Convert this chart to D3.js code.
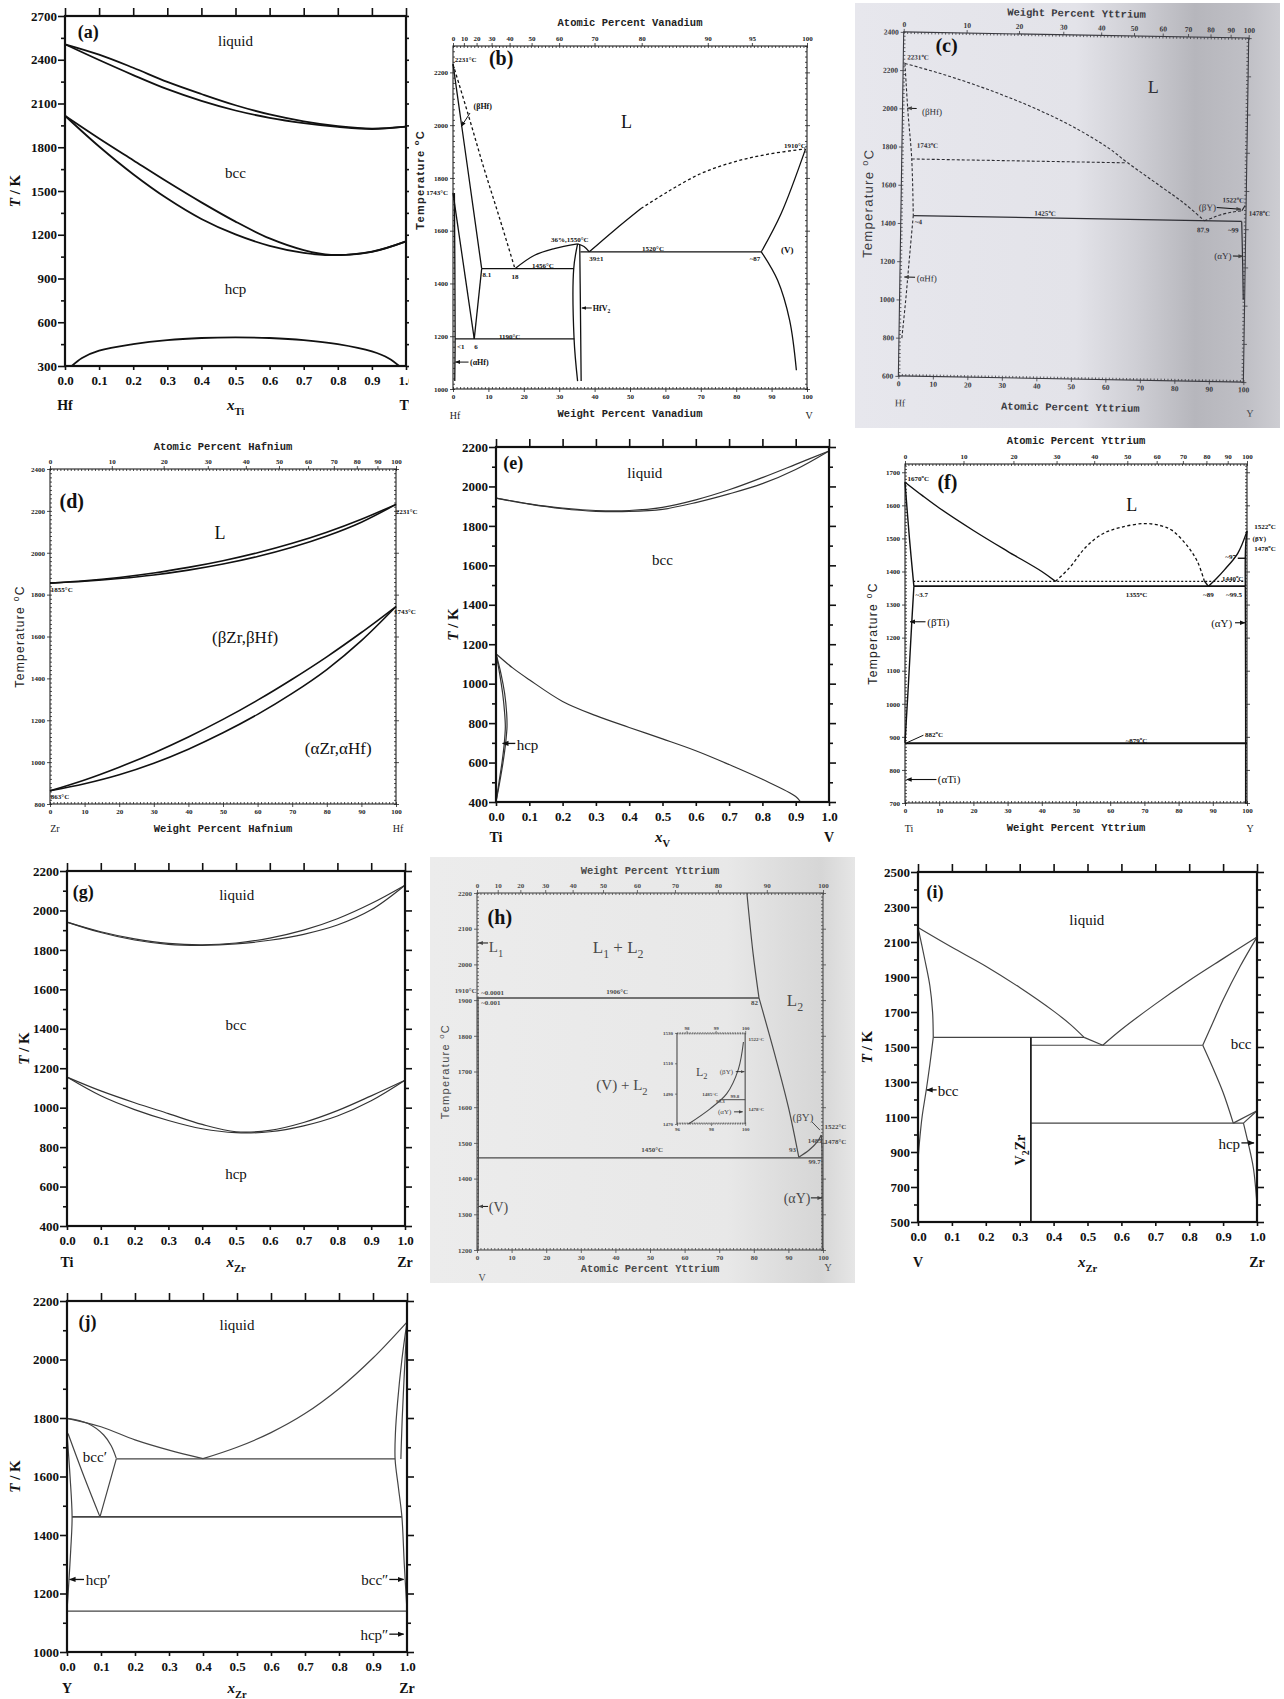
<!DOCTYPE html>
<html>
<head>
<meta charset="utf-8">
<title>Binary phase diagrams (a)-(j)</title>
<script src="https://cdn.jsdelivr.net/npm/d3@7"></script>
<style>
  body { margin: 0; background: #fff; }
  svg { display: block; }
</style>
</head>
<body>
<svg id="fig" width="1284" height="1699"></svg>
<script>
// ---------------- data ----------------
const MASS = { Hf: 178.49, V: 50.94, Y: 88.91, Zr: 91.22, Ti: 47.87 };

const fracTicks = [0, 0.1, 0.2, 0.3, 0.4, 0.5, 0.6, 0.7, 0.8, 0.9, 1.0];
const pctTicks = [0, 10, 20, 30, 40, 50, 60, 70, 80, 90, 100];

// (a) Hf-Ti, T/K vs x_Ti
const aYTicks = [300, 600, 900, 1200, 1500, 1800, 2100, 2400, 2700];
const aLiquidus = [[0,2506],[0.1,2435],[0.2,2345],[0.3,2248],[0.4,2165],[0.5,2088],[0.6,2025],[0.7,1978],[0.8,1945],[0.9,1928],[1,1941]];
const aSolidus  = [[0,2506],[0.1,2398],[0.2,2295],[0.3,2198],[0.4,2118],[0.5,2052],[0.6,2002],[0.7,1966],[0.8,1940],[0.9,1925],[1,1941]];
const aBccUpper = [[0,2016],[0.1,1860],[0.2,1711],[0.3,1563],[0.4,1422],[0.5,1290],[0.6,1175],[0.7,1095],[0.78,1062],[0.9,1085],[1,1155]];
const aBccLower = [[0,2016],[0.1,1805],[0.2,1615],[0.3,1448],[0.4,1308],[0.5,1202],[0.6,1124],[0.7,1076],[0.78,1060],[0.9,1083],[1,1155]];
const aGap = [[0.02,300],[0.05,355],[0.1,405],[0.2,450],[0.3,478],[0.4,492],[0.5,496],[0.6,492],[0.7,478],[0.8,450],[0.9,400],[0.95,352],[0.98,300]];

// (b) Hf-V, degC vs wt% V
const bYTicks = [1000, 1200, 1400, 1600, 1800, 2000, 2200];
const bTopAt = [0, 10, 20, 30, 40, 50, 60, 70, 80, 90, 95, 100];
const bLiqHf = [[0,2231],[4.3,2040],[8.6,1843],[13.1,1650],[17.5,1456]];
const bSolHf = [[0,2231],[4,1850],[8.1,1456]];
const bBetaLow = [[8.1,1456],[6,1190]];
const bEutectoid = [[0,1743],[6,1190]];
const bAlphaHf = [[0.4,1743],[0.6,1190],[0.5,1030]];
const bLiqMid = [[17.5,1456],[22.9,1506],[28.6,1532],[35.2,1550]];
const bHfV2Left = [[35.2,1550],[34.1,1456],[34.2,1190],[35.2,1030]];
const bHfV2Right = [[35.8,1548],[36.0,1300],[36.2,1030]];
const bPeakRight = [[35.2,1550],[37,1540],[38.5,1520]];
const bLiqVSolid = [[38.5,1520],[45.6,1602],[53.1,1684]];
const bLiqVDash = [[53.1,1684],[60.7,1748],[70.1,1817],[79.5,1861],[89,1890],[99.5,1910]];
const bSolV = [[87.1,1520],[92.7,1665],[99.6,1910]];
const bSolvusV = [[87.1,1520],[91.7,1412],[95.1,1260],[97,1071]];
const bIsotherms = [{ from: 0.6, to: 34.3, t: 1190 }, { from: 8.1, to: 34.2, t: 1456 }, { from: 36.0, to: 87.1, t: 1520 }];

// (c) Hf-Y, degC vs at% Y (photo)
const cYTicks = [600, 800, 1000, 1200, 1400, 1600, 1800, 2000, 2200, 2400];
const cLiq = [[0.5,2235],[10,2190],[20,2135],[30,2072],[40,2000],[50,1915],[60,1810],[65.2,1740],[75,1618],[82,1530],[88,1440]];
const cMeta = [[2.9,1736],[65.2,1736]];
const cBetaHf = [[0.5,2235],[1.6,1980],[2.9,1736],[3.6,1440]];
const cAlphaHf = [[3.6,1440],[2.6,1200],[1.8,1000],[0.8,790]];
const cEut = [[3.6,1440],[98.8,1440]];
const cBetaY = [[88,1440],[90.5,1458],[92.5,1472],[96,1488],[98.8,1496]];
const cAlphaY = [[98.8,1440],[99.3,1200],[99.6,1030]];
const cYMelt = [[98.8,1496],[99.7,1524]];

// (d) Zr-Hf, degC vs wt% Hf
const dYTicks = [800, 1000, 1200, 1400, 1600, 1800, 2000, 2200, 2400];
const dLiq = [[0,1855],[10,1866],[20,1882],[30,1903],[40,1930],[50,1962],[60,2000],[70,2045],[80,2098],[90,2160],[100,2231]];
const dSol = [[0,1855],[10,1864],[20,1877],[30,1894],[40,1917],[50,1946],[60,1982],[70,2026],[80,2080],[90,2146],[100,2231]];
const dTransUp = [[0,863],[10,915],[20,976],[30,1044],[40,1120],[50,1204],[60,1296],[70,1396],[80,1503],[90,1619],[100,1743]];
const dTransLow = [[0,863],[10,897],[20,940],[30,995],[40,1062],[50,1140],[60,1228],[70,1328],[80,1442],[90,1580],[100,1743]];

// (e) Ti-V, T/K vs x_V
const eYTicks = [400, 600, 800, 1000, 1200, 1400, 1600, 1800, 2000, 2200];
const eLiq = [[0,1941],[0.1,1912],[0.2,1890],[0.3,1878],[0.4,1878],[0.5,1894],[0.6,1932],[0.7,1983],[0.8,2045],[0.9,2112],[1,2180]];
const eSol = [[0,1941],[0.1,1910],[0.2,1887],[0.3,1874],[0.4,1873],[0.5,1884],[0.6,1918],[0.7,1962],[0.8,2014],[0.9,2086],[1,2180]];
const eTrans = [[0,1152],[0.05,1080],[0.1,1020],[0.2,910],[0.3,838],[0.4,778],[0.5,720],[0.6,660],[0.7,590],[0.8,515],[0.9,428],[0.915,400]];
const eHcpOut = [[0,1152],[0.015,1050],[0.026,950],[0.032,850],[0.033,780],[0.029,700],[0.021,600],[0.011,500],[0,400]];
const eHcpIn  = [[0,1152],[0.011,1050],[0.02,950],[0.026,850],[0.028,780],[0.025,700],[0.018,600],[0.009,500],[0,400]];

// (f) Ti-Y, degC vs wt% Y
const fYTicks = [700, 800, 900, 1000, 1100, 1200, 1300, 1400, 1500, 1600, 1700];
const fLiqL = [[0,1670],[5,1630],[10,1592],[20,1524],[30,1461],[40,1400],[44,1370]];
const fDome = [[44,1370],[48,1410],[53,1475],[58,1515],[63,1533],[70,1545],[75,1538],[78,1525],[82.5,1478],[85.5,1430],[87.5,1372]];
const fDomeFoot = [[87.5,1372],[88.7,1355]];
const fLiqR = [[88.7,1355],[91,1378],[93.4,1405],[97.3,1455],[100,1522]];
const fBetaTiHi = [[0,1670],[1.3,1500],[2.6,1355]];
const fBetaTiLo = [[2.6,1355],[2.0,1250],[1.0,1060],[0,882]];
const fBetaY = [[100,1522],[99.6,1478],[99.5,1440],[99.5,1355]];
const fAlphaY = [[99.5,1355],[99.6,1000],[99.6,700]];
const fMonotectic = [[2.4,1370],[99.7,1370]];
const fEutectic = [[2.6,1356],[99.5,1356]];
const fEutectoid = [[0,881],[100,881]];
const fPeri = [[97.3,1440],[99.5,1440]];

// (g) Ti-Zr, T/K vs x_Zr
const gYTicks = [400, 600, 800, 1000, 1200, 1400, 1600, 1800, 2000, 2200];
const gLiq = [[0,1941],[0.1,1892],[0.2,1856],[0.3,1833],[0.4,1826],[0.5,1835],[0.6,1860],[0.7,1900],[0.8,1958],[0.9,2035],[1,2128]];
const gSol = [[0,1941],[0.1,1888],[0.2,1850],[0.3,1828],[0.4,1823],[0.5,1830],[0.6,1849],[0.7,1879],[0.8,1926],[0.9,2003],[1,2128]];
const gBcc = [[0,1155],[0.1,1085],[0.2,1025],[0.3,970],[0.4,915],[0.5,878],[0.6,885],[0.7,925],[0.8,985],[0.9,1060],[1,1139]];
const gHcp = [[0,1155],[0.1,1060],[0.2,990],[0.3,935],[0.4,893],[0.5,873],[0.6,878],[0.7,908],[0.8,958],[0.9,1035],[1,1139]];

// (h) V-Y, degC vs at% Y (photo)
const hYTicks = [1200, 1300, 1400, 1500, 1600, 1700, 1800, 1900, 2000, 2100, 2200];
const hL2Top = [[78,2200],[79.8,2030],[81.5,1906]];
const hL2 = [[81.5,1906],[86,1750],[90,1600],[93,1460]];
const hIsotherms = [{ from: 0, to: 81.5, t: 1906 }, { from: 0, to: 99.7, t: 1458 }];
const hBetaY = [[93,1460],[96,1480],[98.5,1505],[99.5,1522]];
const hAlphaY = [[99.5,1522],[99.7,1478],[99.7,1458],[99.8,1200]];
const hVSolvus = [[0.3,1906],[0.4,1458],[0.3,1200]];
const hInsetYTicks = [1470, 1490, 1510, 1530];
const hInsetBottom = [96, 98, 100];
const hInsetTopWt = [98, 99, 100];
const hInsetCurve = [[96.67,1470],[97.94,1480],[98.92,1490],[99.6,1506],[99.9,1524]];
const hInsetPeri = [[98.5,1486],[100,1486]];

// (i) V-Zr, T/K vs x_Zr
const iYTicks = [500, 700, 900, 1100, 1300, 1500, 1700, 1900, 2100, 2300, 2500];
const iLiqV = [[0,2183],[0.1,2070],[0.2,1962],[0.3,1840],[0.4,1705],[0.45,1628],[0.49,1555]];
const iLiqPeri = [[0.49,1555],[0.545,1510]];
const iLiqZr = [[0.545,1510],[0.6,1600],[0.7,1745],[0.8,1880],[0.9,2005],[1,2128]];
const iSolvV1 = [[0,2183],[0.02,2000],[0.035,1850],[0.043,1700],[0.045,1555]];
const iSolvV2 = [[0.045,1555],[0.035,1400],[0.024,1250],[0.012,1100],[0.004,950],[0,850]];
const iV2Zr = [[0.333,500],[0.333,1555]];
const iBccZrHi = [[0.84,1510],[0.87,1640],[0.9,1770],[0.95,1960],[1,2128]];
const iBccZrLo = [[0.84,1510],[0.87,1380],[0.9,1240],[0.93,1065]];
const iHcpTop1 = [[0.93,1065],[1,1136]];
const iHcpTop2 = [[0.96,1065],[1,1136]];
const iHcpZr = [[0.96,1065],[0.98,900],[0.99,800],[1,600]];
const iIsotherms = [{ from: 0.045, to: 0.49, t: 1555 }, { from: 0.333, to: 0.84, t: 1510 }, { from: 0.333, to: 0.96, t: 1065 }];

// (j) Y-Zr, T/K vs x_Zr
const jYTicks = [1000, 1200, 1400, 1600, 1800, 2000, 2200];
const jLiqY = [[0,1799],[0.1,1770],[0.2,1725],[0.3,1690],[0.4,1661]];
const jBccSol = [[0,1799],[0.06,1782],[0.108,1742],[0.13,1705],[0.145,1662]];
const jLiqZr = [[0.4,1661],[0.5,1700],[0.6,1750],[0.7,1815],[0.8,1900],[0.9,2005],[1,2128]];
const jBccLowR = [[0.145,1660],[0.097,1462]];
const jBccLowL = [[0.003,1747],[0.05,1600],[0.097,1462]];
const jHcpY = [[0,1747],[0.009,1600],[0.015,1462],[0.011,1350],[0.006,1250],[0,1140]];
const jBccZrOut = [[1,2128],[0.985,2000],[0.972,1850],[0.966,1750],[0.965,1660],[0.975,1560],[0.985,1462],[0.992,1300],[1,1140]];
const jBccZrIn = [[1,2128],[0.992,1950],[0.986,1800],[0.983,1700],[0.982,1660]];
const jIsotherms = [{ from: 0.145, to: 0.965, t: 1660, w: 1.2 }, { from: 0.015, to: 0.985, t: 1462, w: 1.8 }, { from: 0, to: 1, t: 1140, w: 1.2 }];

// ---------------- helpers ----------------
const SERIF = "'Liberation Serif','Times New Roman',serif";
const MONO = "'Liberation Mono','Courier New',monospace";
const SANS = "'Liberation Sans','DejaVu Sans',sans-serif";

// atomic % B -> weight % B, and back
function atToWt(a, mA, mB) { return 100 * a * mB / (a * mB + (100 - a) * mA); }
function wtToAt(w, mA, mB) { return 100 * (w / mB) / (w / mB + (100 - w) / mA); }

const svg = d3.select("#fig");
const defs = svg.append("defs");
[["arr", "#111"], ["arrg", "#444"]].forEach(([id, c]) => {
  defs.append("marker").attr("id", id).attr("viewBox", "0 0 10 10").attr("refX", 9).attr("refY", 5)
    .attr("markerWidth", 5).attr("markerHeight", 5).attr("orient", "auto")
    .append("path").attr("d", "M0,1L10,5L0,9z").attr("fill", c);
});

function panel(box, xDom, yDom, parent) {
  const g = (parent || svg).append("g");
  return {
    g, box,
    x: d3.scaleLinear().domain(xDom).range([box.x0, box.x1]),
    y: d3.scaleLinear().domain(yDom).range([box.y1, box.y0])
  };
}

function path(p, data, o = {}) {
  const line = d3.line().x(d => p.x(d[0])).y(d => p.y(d[1]))
    .curve(o.linear ? d3.curveLinear : d3.curveCatmullRom.alpha(0.5));
  return p.g.append("path").attr("d", line(data)).attr("fill", "none")
    .attr("stroke", o.color || "#111").attr("stroke-width", o.w || 1.4)
    .attr("stroke-dasharray", o.dash || null).attr("stroke-linejoin", "round");
}

function iso(p, list, o = {}) {
  list.forEach(d => path(p, [[d.from, d.t], [d.to, d.t]], Object.assign({ linear: true }, o, d.w ? { w: d.w } : {})));
}

function addText(g, px, py, content, o = {}) {
  const size = o.size || 14;
  const t = g.append("text").attr("x", px).attr("y", py).attr("dy", o.dy || "0.35em")
    .attr("text-anchor", o.anchor || "middle")
    .attr("font-family", o.font || SERIF).attr("font-size", size)
    .attr("font-weight", o.weight || "normal").attr("fill", o.color || "#111");
  if (o.spacing) t.attr("letter-spacing", o.spacing);
  if (o.rotate) t.attr("transform", `rotate(${o.rotate},${px},${py})`);
  if (typeof content === "string") { t.text(content); return t; }
  let shift = 0;
  content.forEach(s => {
    const target = s.sub ? size * 0.3 : s.sup ? -size * 0.4 : 0;
    const ts = t.append("tspan").text(s.t);
    if (target !== shift) ts.attr("dy", target - shift);
    shift = target;
    if (s.sub || s.sup) ts.attr("font-size", size * 0.7);
    if (s.i) ts.attr("font-style", "italic");
  });
  return t;
}
function label(p, xv, yv, content, o) { return addText(p.g, p.x(xv), p.y(yv), content, o); }
function arrow(p, x1, y1, x2, y2, o = {}) {
  p.g.append("line").attr("x1", p.x(x1)).attr("y1", p.y(y1)).attr("x2", p.x(x2)).attr("y2", p.y(y2))
    .attr("stroke", o.color || "#111").attr("stroke-width", o.w || 1.2)
    .attr("marker-end", o.head === false ? null : `url(#${o.gray ? "arrg" : "arr"})`);
}

// computed-diagram axes (a, e, g, i, j)
function calcAxes(p, o) {
  const b = p.box, g = p.g.append("g");
  const put = (ax, tx, ty) => g.append("g").attr("transform", `translate(${tx},${ty})`).call(ax);
  put(d3.axisLeft(p.y).tickValues(o.yMinor).tickSize(4).tickFormat(""), b.x0, 0);
  put(d3.axisRight(p.y).tickValues(o.yMinor).tickSize(4).tickFormat(""), b.x1, 0);
  put(d3.axisLeft(p.y).tickValues(o.yTicks).tickSize(7).tickPadding(1).tickFormat(d3.format("d")), b.x0, 0);
  put(d3.axisRight(p.y).tickValues(o.yTicks).tickSize(7).tickFormat(""), b.x1, 0);
  put(d3.axisTop(p.x).tickValues(fracTicks).tickSize(8).tickFormat(""), 0, b.y0);
  put(d3.axisBottom(p.x).tickValues(fracTicks).tickSize(4).tickPadding(6).tickFormat(d3.format(".1f")), 0, b.y1);
  g.selectAll(".domain").remove();
  g.selectAll("line").attr("stroke", "#111").attr("stroke-width", 1.6);
  g.selectAll("text").attr("font-family", SERIF).attr("font-weight", "bold").attr("font-size", 13).attr("fill", "#111");
  g.append("rect").attr("x", b.x0).attr("y", b.y0).attr("width", b.x1 - b.x0).attr("height", b.y1 - b.y0)
    .attr("fill", "none").attr("stroke", "#111").attr("stroke-width", 2.2);
  const fy = b.y1 + o.foot;
  addText(p.g, b.x0, fy, o.left, { size: 14, weight: "bold" });
  addText(p.g, b.x1, fy, o.right, { size: 14, weight: "bold" });
  addText(p.g, (b.x0 + b.x1) / 2, fy, [{ t: "x", i: true }, { t: o.sub, sub: true }], { size: 15, weight: "bold" });
  addText(p.g, b.x0 - o.title, (b.y0 + b.y1) / 2, [{ t: "T", i: true }, { t: " / K" }], { size: 15, weight: "bold", rotate: -90 });
}

// digitised ASM-style axes (b, c, d, f, h)
function digAxes(p, o) {
  const b = p.box, g = p.g.append("g");
  const col = o.color || "#222";
  const [xa, xb] = p.x.domain(), [ya, yb] = p.y.domain();
  const xMinor = d3.range(xa, xb + 1e-6, o.xMinor);
  const yMinor = d3.range(Math.ceil(ya / o.yMinor) * o.yMinor, yb + 1e-6, o.yMinor);
  const put = (ax, tx, ty) => g.append("g").attr("transform", `translate(${tx},${ty})`).call(ax);
  put(d3.axisBottom(p.x).tickValues(xMinor).tickSize(-2).tickFormat(""), 0, b.y1);
  put(d3.axisTop(p.x).tickValues(xMinor).tickSize(-2).tickFormat(""), 0, b.y0);
  put(d3.axisLeft(p.y).tickValues(yMinor).tickSize(-2).tickFormat(""), b.x0, 0);
  put(d3.axisRight(p.y).tickValues(yMinor).tickSize(-2).tickFormat(""), b.x1, 0);
  put(d3.axisBottom(p.x).tickValues(o.xTicks).tickSize(3).tickPadding(2).tickFormat(d3.format("d")), 0, b.y1);
  put(d3.axisTop(p.x).tickValues(o.topPos).tickSize(3).tickPadding(2).tickFormat((d, i) => o.topLabels[i]), 0, b.y0);
  put(d3.axisLeft(p.y).tickValues(o.yTicks).tickSize(3).tickPadding(2).tickFormat(d3.format("d")), b.x0, 0);
  put(d3.axisRight(p.y).tickValues(o.yTicks).tickSize(3).tickFormat(""), b.x1, 0);
  g.selectAll(".domain").remove();
  g.selectAll("line").attr("stroke", col).attr("stroke-width", 0.8);
  g.selectAll("text").attr("font-family", SERIF).attr("font-weight", "bold").attr("font-size", o.fs || 7).attr("fill", col);
  g.append("rect").attr("x", b.x0).attr("y", b.y0).attr("width", b.x1 - b.x0).attr("height", b.y1 - b.y0)
    .attr("fill", "none").attr("stroke", col).attr("stroke-width", o.frame || 1.1);
  const mx = (b.x0 + b.x1) / 2;
  addText(p.g, mx, b.y0 - o.topGap, o.topTitle, { font: MONO, size: 10.5, weight: "bold", color: col });
  addText(p.g, mx, b.y1 + o.botGap, o.botTitle, { font: MONO, size: 10.5, weight: "bold", color: col });
  addText(p.g, b.x0 + (o.leftDx || 2), b.y1 + o.elemGap, o.left, { size: 10, color: col });
  addText(p.g, b.x1 + (o.rightDx || 2), b.y1 + (o.elemGapR || o.elemGap), o.right, { size: 10, color: col });
  addText(p.g, b.x0 - o.tGap, b.y0 + (b.y1 - b.y0) * (o.tPos || 0.5),
    [{ t: "Temperature " }, { t: "o", sup: true }, { t: "C" }],
    { font: SANS, size: o.tSize || 11.5, weight: o.tWeight || "normal", spacing: 1.3, rotate: -90, color: col });
}

// ---------------- (a) Hf-Ti ----------------
const A = panel({ x0: 65, x1: 406, y0: 16, y1: 366 }, [0, 1], [300, 2700]);
[aLiquidus, aSolidus, aBccUpper, aBccLower, aGap].forEach(d => path(A, d, { w: 1.8 }));
calcAxes(A, { yTicks: aYTicks, yMinor: aYTicks.slice(0, -1).map(v => v + 150), foot: 39, title: 50, left: "Hf", right: "Ti", sub: "Ti" });
label(A, 0.068, 2590, "(a)", { size: 18, weight: "bold" });
label(A, 0.5, 2530, "liquid", { size: 15 });
label(A, 0.5, 1625, "bcc", { size: 15 });
label(A, 0.5, 830, "hcp", { size: 15 });

// white sheet of panel (b) laid over the right edge of (a)
svg.append("rect").attr("x", 409).attr("y", 0).attr("width", 446).attr("height", 430).attr("fill", "#fff");

// ---------------- (b) Hf-V ----------------
const B = panel({ x0: 453, x1: 807, y0: 46, y1: 389 }, [0, 100], [1000, 2300]);
digAxes(B, {
  yTicks: bYTicks, yMinor: 20, xTicks: pctTicks, xMinor: 1,
  topPos: bTopAt.map(a => atToWt(a, MASS.Hf, MASS.V)), topLabels: bTopAt,
  topTitle: "Atomic Percent Vanadium", botTitle: "Weight Percent Vanadium",
  topGap: 24, botGap: 24, elemGap: 26, left: "Hf", right: "V", tGap: 33, tPos: 0.39, tWeight: "bold", tSize: 11
});
path(B, bLiqHf, { dash: "3,2.5", w: 1.3 });
path(B, bLiqVDash, { dash: "3,2.5", w: 1.3 });
[bSolHf, bBetaLow, bEutectoid, bAlphaHf, bLiqMid, bHfV2Left, bHfV2Right, bPeakRight, bLiqVSolid, bSolV, bSolvusV]
  .forEach(d => path(B, d, { w: 1.3 }));
iso(B, bIsotherms, { w: 1.3 });
const bs = { size: 7, weight: "bold" };
label(B, 0.5, 2247, "2231°C", Object.assign({ anchor: "start" }, bs));
label(B, 13.6, 2255, "(b)", { size: 20, weight: "bold" });
label(B, 8.4, 2073, "(βHf)", { size: 8, weight: "bold" });
arrow(B, 4.8, 2046, 2.4, 1996, { w: 1 });
label(B, 49, 2012, "L", { size: 18 });
label(B, 96.6, 1921, "1910°C", bs);
label(B, -4.5, 1743, "1743°C", bs);
label(B, 9.6, 1432, "8.1", bs);
label(B, 17.5, 1428, "18", bs);
label(B, 25.4, 1466, "1456°C", bs);
label(B, 33, 1568, "36%,1550°C", bs);
label(B, 40.5, 1496, "39±1", bs);
label(B, 56.5, 1534, "1520°C", bs);
label(B, 85.3, 1496, "~87", bs);
label(B, 94.4, 1527, "(V)", { size: 9, weight: "bold" });
label(B, 39.5, 1307, [{ t: "HfV" }, { t: "2", sub: true }], { size: 8, weight: "bold", anchor: "start" });
arrow(B, 39.2, 1307, 36.4, 1307, { w: 1 });
label(B, 16, 1197, "1190°C", bs);
label(B, 2.2, 1159, "<1", bs);
label(B, 6.5, 1159, "6", bs);
label(B, 4.8, 1102, "(αHf)", { size: 8, weight: "bold", anchor: "start" });
arrow(B, 4.4, 1102, 0.7, 1102, { w: 1 });

// ---------------- (c) Hf-Y (photograph) ----------------
const cGrad = defs.append("linearGradient").attr("id", "cbg").attr("x1", "0").attr("x2", "1").attr("y1", "0").attr("y2", "0");
[["0%", "#e7e7ed"], ["52%", "#e3e3e9"], ["66%", "#cfcfd5"], ["80%", "#b6b6bc"], ["92%", "#bfbfc5"], ["100%", "#cdcdd2"]]
  .forEach(([o, c]) => cGrad.append("stop").attr("offset", o).attr("stop-color", c));
svg.append("rect").attr("x", 855).attr("y", 3).attr("width", 425).attr("height", 425).attr("fill", "url(#cbg)");
const cG = svg.append("g").attr("transform", "matrix(1,0.0179,-0.0155,1,903.7,31.9)");
const C = panel({ x0: 0, x1: 345, y0: 0, y1: 344 }, [0, 100], [600, 2400], cG);
digAxes(C, {
  yTicks: cYTicks, yMinor: 20, xTicks: pctTicks, xMinor: 1, color: "#3a3a40", fs: 7.5,
  topPos: pctTicks.map(w => wtToAt(w, MASS.Hf, MASS.Y)), topLabels: pctTicks,
  topTitle: "Weight Percent Yttrium", botTitle: "Atomic Percent Yttrium",
  topGap: 22, botGap: 28, elemGap: 27, elemGapR: 31, left: "Hf", right: "Y", rightDx: 7,
  tGap: 33, tSize: 13
});
const cc = "#2e2e34";
[cLiq, cMeta, cBetaHf, cAlphaHf, cBetaY].forEach(d => path(C, d, { dash: "3,2", w: 1.1, color: cc }));
[cEut, cAlphaY, cYMelt].forEach(d => path(C, d, { w: 1.2, color: cc }));
const cs = { size: 7, weight: "bold", color: cc };
label(C, 12.5, 2336, "(c)", { size: 20, weight: "bold", color: "#111" });
label(C, 72.6, 2137, "L", { size: 18, color: cc });
label(C, 4.3, 2269, [{ t: "2231" }, { t: "o", sup: true }, { t: "C" }], cs);
label(C, 8.6, 1985, "(βHf)", { size: 9, color: cc });
arrow(C, 4.1, 2001, 1.4, 2001, { w: 1, gray: true });
label(C, 7.4, 1808, [{ t: "1743" }, { t: "o", sup: true }, { t: "C" }], cs);
label(C, 5.1, 1408, "~4", cs);
label(C, 41.8, 1464, [{ t: "1425" }, { t: "o", sup: true }, { t: "C" }], cs);
label(C, 7.8, 1113, "(αHf)", { size: 9, color: cc });
arrow(C, 4.4, 1118, 1.3, 1118, { w: 1, gray: true });
label(C, 88.8, 1511, "(βY)", { size: 9, color: cc });
arrow(C, 91.5, 1511, 98.5, 1504, { w: 1, gray: true });
label(C, 96.3, 1551, [{ t: "1522" }, { t: "o", sup: true }, { t: "C" }], cs);
label(C, 103.9, 1484, [{ t: "1478" }, { t: "o", sup: true }, { t: "C" }], cs);
label(C, 87.7, 1392, "87.9", cs);
label(C, 96.4, 1394, "~99", cs);
label(C, 93.5, 1258, "(αY)", { size: 9, color: cc });
arrow(C, 96.4, 1258, 99.3, 1258, { w: 1, gray: true });

// ---------------- (d) Zr-Hf ----------------
const D = panel({ x0: 50, x1: 396, y0: 469, y1: 804 }, [0, 100], [800, 2400]);
digAxes(D, {
  yTicks: dYTicks, yMinor: 20, xTicks: pctTicks, xMinor: 1,
  topPos: pctTicks.map(a => atToWt(a, MASS.Zr, MASS.Hf)), topLabels: pctTicks,
  topTitle: "Atomic Percent Hafnium", botTitle: "Weight Percent Hafnium",
  topGap: 23, botGap: 24, elemGap: 24, left: "Zr", right: "Hf", leftDx: 5, tGap: 30, tSize: 12
});
[dLiq, dSol, dTransUp, dTransLow].forEach(d => path(D, d, { w: 1.6 }));
const ds = { size: 7, weight: "bold" };
label(D, 6.3, 2245, "(d)", { size: 20, weight: "bold" });
label(D, 49.1, 2097, "L", { size: 18 });
label(D, 56.4, 1599, "(βZr,βHf)", { size: 17 });
label(D, 83.3, 1067, "(αZr,αHf)", { size: 17 });
label(D, 3.4, 1822, "1855°C", ds);
label(D, 103.1, 2199, "2231°C", ds);
label(D, 102.6, 1718, "1743°C", ds);
label(D, 2.9, 835, "863°C", ds);

// ---------------- (e) Ti-V ----------------
const E = panel({ x0: 496, x1: 829, y0: 447, y1: 802 }, [0, 1], [400, 2200]);
[eLiq, eSol, eTrans, eHcpOut, eHcpIn].forEach(d => path(E, d, { w: 1.2, color: "#333" }));
calcAxes(E, { yTicks: eYTicks, yMinor: eYTicks.slice(0, -1).map(v => v + 100), foot: 35, title: 43, left: "Ti", right: "V", sub: "V" });
label(E, 0.052, 2118, "(e)", { size: 18, weight: "bold" });
label(E, 0.447, 2067, "liquid", { size: 15 });
label(E, 0.5, 1627, "bcc", { size: 15 });
label(E, 0.062, 689, "hcp", { size: 15, anchor: "start" });
arrow(E, 0.058, 697, 0.02, 697, { w: 1.3 });

// ---------------- (f) Ti-Y ----------------
const F = panel({ x0: 905, x1: 1247, y0: 464, y1: 803 }, [0, 100], [700, 1725]);
digAxes(F, {
  yTicks: fYTicks, yMinor: 10, xTicks: pctTicks, xMinor: 1,
  topPos: pctTicks.map(a => atToWt(a, MASS.Ti, MASS.Y)), topLabels: pctTicks,
  topTitle: "Atomic Percent Yttrium", botTitle: "Weight Percent Yttrium",
  topGap: 24, botGap: 24, elemGap: 25, left: "Ti", right: "Y", leftDx: 4, rightDx: 3, tGap: 32, tSize: 12
});
path(F, fDome, { dash: "3,2.5", w: 1.3 });
path(F, fMonotectic, { dash: "2,2", w: 1.2, linear: true });
[fLiqL, fDomeFoot, fLiqR, fBetaTiHi, fBetaTiLo, fBetaY, fAlphaY, fPeri].forEach(d => path(F, d, { w: 1.4 }));
path(F, fEutectic, { w: 1.7, linear: true });
path(F, fEutectoid, { w: 2, linear: true });
const fs = { size: 7, weight: "bold" };
label(F, 3.9, 1682, [{ t: "1670" }, { t: "o", sup: true }, { t: "C" }], fs);
label(F, 12.4, 1671, "(f)", { size: 20, weight: "bold" });
label(F, 66.3, 1601, "L", { size: 18 });
label(F, 105.3, 1535, [{ t: "1522" }, { t: "o", sup: true }, { t: "C" }], fs);
label(F, 103.6, 1500, "(βY)", fs);
label(F, 105.3, 1470, [{ t: "1478" }, { t: "o", sup: true }, { t: "C" }], fs);
label(F, 95.2, 1444, "~97", fs);
label(F, 95.8, 1380, [{ t: "1440" }, { t: "o", sup: true }, { t: "C" }], fs);
label(F, 4.9, 1331, "~3.7", fs);
label(F, 67.7, 1329, [{ t: "1355" }, { t: "o", sup: true }, { t: "C" }], fs);
label(F, 88.7, 1329, "~89", fs);
label(F, 96.2, 1329, "~99.5", fs);
label(F, 6.5, 1248, "(βTi)", { size: 11, anchor: "start" });
arrow(F, 6, 1248, 1.5, 1248, { w: 1.1 });
label(F, 92.6, 1245, "(αY)", { size: 11 });
arrow(F, 96.5, 1245, 99.4, 1245, { w: 1.1 });
label(F, 8.5, 908, [{ t: "882" }, { t: "o", sup: true }, { t: "C" }], fs);
arrow(F, 5.4, 905, 0.5, 882, { w: 1, head: false });
label(F, 67.7, 890, [{ t: "~879" }, { t: "o", sup: true }, { t: "C" }], fs);
label(F, 9.6, 771, "(αTi)", { size: 11, anchor: "start" });
arrow(F, 9.2, 771, 0.5, 771, { w: 1.1 });

// ---------------- (g) Ti-Zr ----------------
const G = panel({ x0: 67, x1: 405, y0: 871, y1: 1226 }, [0, 1], [400, 2200]);
[gLiq, gSol, gBcc, gHcp].forEach(d => path(G, d, { w: 1.2, color: "#333" }));
calcAxes(G, { yTicks: gYTicks, yMinor: gYTicks.slice(0, -1).map(v => v + 100), foot: 36, title: 43, left: "Ti", right: "Zr", sub: "Zr" });
label(G, 0.048, 2095, "(g)", { size: 18, weight: "bold" });
label(G, 0.502, 2078, "liquid", { size: 15 });
label(G, 0.5, 1419, "bcc", { size: 15 });
label(G, 0.5, 667, "hcp", { size: 15 });

// ---------------- (h) V-Y (photograph) ----------------
const hGrad = defs.append("linearGradient").attr("id", "hbg").attr("x1", "0").attr("x2", "1").attr("y1", "0").attr("y2", "0");
[["0%", "#ececec"], ["70%", "#e8e8e8"], ["84%", "#dcdcdc"], ["92%", "#d6d6d6"], ["100%", "#e6e6e6"]]
  .forEach(([o, c]) => hGrad.append("stop").attr("offset", o).attr("stop-color", c));
svg.append("rect").attr("x", 430).attr("y", 857).attr("width", 425).attr("height", 426).attr("fill", "url(#hbg)");
const H = panel({ x0: 477, x1: 823, y0: 893, y1: 1250 }, [0, 100], [1200, 2200]);
const hc = "#4a4a4a";
digAxes(H, {
  yTicks: hYTicks, yMinor: 10, xTicks: pctTicks, xMinor: 1, color: hc, fs: 7,
  topPos: pctTicks.map(w => wtToAt(w, MASS.V, MASS.Y)), topLabels: pctTicks,
  topTitle: "Weight Percent Yttrium", botTitle: "Atomic Percent Yttrium",
  topGap: 23, botGap: 18, elemGap: 27, elemGapR: 17, left: "V", right: "Y", leftDx: 5, rightDx: 5, tGap: 32, tSize: 11
});
[hL2Top, hL2, hBetaY, hAlphaY, hVSolvus].forEach(d => path(H, d, { w: 1.2, color: hc }));
iso(H, hIsotherms, { w: 1.4, color: hc });
const hs = { size: 7, weight: "bold", color: hc };
label(H, 6.6, 2133, "(h)", { size: 20, weight: "bold", color: "#111" });
label(H, 40.8, 2049, [{ t: "L" }, { t: "1", sub: true }, { t: " + L" }, { t: "2", sub: true }], { size: 17, color: hc });
label(H, 91.9, 1900, [{ t: "L" }, { t: "2", sub: true }], { size: 17, color: hc });
label(H, 41.9, 1662, [{ t: "(V) + L" }, { t: "2", sub: true }], { size: 15, color: hc });
label(H, 3.4, 2049, [{ t: "L" }, { t: "1", sub: true }], { size: 15, color: hc, anchor: "start" });
arrow(H, 3.2, 2060, 0.4, 2060, { w: 1, gray: true });
label(H, 3.4, 1320, "(V)", { size: 14, color: hc, anchor: "start" });
arrow(H, 3.2, 1322, 0.5, 1322, { w: 1, gray: true });
label(H, 92.5, 1346, "(αY)", { size: 14, color: hc });
arrow(H, 96.5, 1346, 99.7, 1346, { w: 1, gray: true });
label(H, -3.3, 1926, "1910°C", hs);
label(H, 1.2, 1922, "~0.0001", Object.assign({ anchor: "start" }, hs));
label(H, 1.2, 1892, "~0.001", Object.assign({ anchor: "start" }, hs));
label(H, 40.5, 1923, "1906°C", hs);
label(H, 80.2, 1892, "82", hs);
label(H, 50.6, 1480, "1450°C", hs);
label(H, 91.2, 1480, "93", hs);
label(H, 97.6, 1448, "99.7", hs);
label(H, 97.6, 1506, "1485", hs);
label(H, 94.2, 1573, "(βY)", { size: 11, color: hc });
arrow(H, 96.8, 1559, 99.1, 1536, { w: 1, head: false, color: hc });
label(H, 103.6, 1545, "1522°C", hs);
label(H, 103.6, 1503, "1478°C", hs);

// inset of (h)
const hb = { x0: H.x(57.8), x1: H.x(77.5), y0: H.y(1808), y1: H.y(1553) };
const HI = panel(hb, [96, 100], [1470, 1530], H.g);
(function insetAxes(p) {
  const b = p.box, g = p.g.append("g");
  const put = (ax, tx, ty) => g.append("g").attr("transform", `translate(${tx},${ty})`).call(ax);
  put(d3.axisLeft(p.y).tickValues(hInsetYTicks).tickSize(2).tickPadding(2).tickFormat(d3.format("d")), b.x0, 0);
  put(d3.axisBottom(p.x).tickValues(hInsetBottom).tickSize(2).tickPadding(1).tickFormat(d3.format("d")), 0, b.y1);
  put(d3.axisTop(p.x).tickValues(hInsetTopWt.map(w => wtToAt(w, MASS.V, MASS.Y))).tickSize(2).tickPadding(1)
    .tickFormat((d, i) => hInsetTopWt[i]), 0, b.y0);
  put(d3.axisTop(p.x).tickValues(d3.range(96, 100.01, 0.1)).tickSize(-1.5).tickFormat(""), 0, b.y0);
  put(d3.axisBottom(p.x).tickValues(d3.range(96, 100.01, 0.1)).tickSize(-1.5).tickFormat(""), 0, b.y1);
  g.selectAll(".domain").remove();
  g.selectAll("line").attr("stroke", hc).attr("stroke-width", 0.7);
  g.selectAll("text").attr("font-family", SERIF).attr("font-weight", "bold").attr("font-size", 5).attr("fill", hc);
  g.append("line").attr("x1", b.x0).attr("x2", b.x0).attr("y1", b.y0).attr("y2", b.y1).attr("stroke", hc).attr("stroke-width", 1.1);
  g.append("line").attr("x1", b.x1).attr("x2", b.x1).attr("y1", b.y0).attr("y2", b.y1).attr("stroke", hc).attr("stroke-width", 1.1);
  g.append("line").attr("x1", b.x0).attr("x2", b.x1).attr("y1", b.y0).attr("y2", b.y0).attr("stroke", hc).attr("stroke-width", 0.8).attr("stroke-dasharray", "1.5,1");
  g.append("line").attr("x1", b.x0).attr("x2", b.x1).attr("y1", b.y1).attr("y2", b.y1).attr("stroke", hc).attr("stroke-width", 0.8).attr("stroke-dasharray", "1.5,1");
})(HI);
path(HI, hInsetCurve, { w: 1.1, color: hc });
path(HI, hInsetPeri, { w: 1, color: hc, linear: true });
const his = { size: 5, weight: "bold", color: hc };
label(HI, 97.45, 1504.5, [{ t: "L" }, { t: "2", sub: true }], { size: 12, color: hc });
label(HI, 98.9, 1504.5, "(βY)", { size: 7, color: hc });
arrow(HI, 99.45, 1504.5, 99.95, 1504.5, { w: 0.8, gray: true });
label(HI, 97.94, 1489.5, "1485°C", his);
label(HI, 98.55, 1485, "99.3", his);
label(HI, 99.4, 1488, "99.8", his);
label(HI, 98.8, 1478, "(αY)", { size: 7, color: hc });
arrow(HI, 99.35, 1478, 99.85, 1478, { w: 0.8, gray: true });
label(HI, 100.2, 1479.7, "1478°C", Object.assign({ anchor: "start" }, his));
label(HI, 100.2, 1525.8, "1522°C", Object.assign({ anchor: "start" }, his));

// ---------------- (i) V-Zr ----------------
const I = panel({ x0: 918, x1: 1257, y0: 872, y1: 1222 }, [0, 1], [500, 2500]);
const ic = "#444";
[iLiqV, iLiqZr, iSolvV1, iSolvV2, iBccZrHi, iBccZrLo, iHcpZr].forEach(d => path(I, d, { w: 1.2, color: ic }));
[iLiqPeri, iHcpTop1, iHcpTop2].forEach(d => path(I, d, { w: 1.2, color: ic, linear: true }));
iso(I, iIsotherms, { w: 1.2, color: ic });
path(I, iV2Zr, { w: 1.8, color: "#222", linear: true });
calcAxes(I, { yTicks: iYTicks, yMinor: iYTicks.slice(0, -1).map(v => v + 100), foot: 40, title: 51, left: "V", right: "Zr", sub: "Zr" });
label(I, 0.05, 2387, "(i)", { size: 18, weight: "bold" });
label(I, 0.498, 2226, "liquid", { size: 15 });
label(I, 0.953, 1521, "bcc", { size: 15 });
label(I, 0.058, 1250, "bcc", { size: 15, anchor: "start" });
arrow(I, 0.055, 1255, 0.026, 1255, { w: 1.3 });
label(I, 0.95, 950, "hcp", { size: 15, anchor: "end" });
arrow(I, 0.954, 952, 0.991, 952, { w: 1.3 });
label(I, 0.301, 911, [{ t: "V" }, { t: "2", sub: true }, { t: "Zr" }], { size: 14, weight: "bold", rotate: -90 });

// ---------------- (j) Y-Zr ----------------
const J = panel({ x0: 67, x1: 407, y0: 1301, y1: 1652 }, [0, 1], [1000, 2200]);
const jc = "#444";
[jLiqY, jBccSol, jLiqZr, jBccLowL, jHcpY, jBccZrOut, jBccZrIn].forEach(d => path(J, d, { w: 1.2, color: jc }));
path(J, jBccLowR, { w: 1.2, color: jc, linear: true });
iso(J, jIsotherms, { color: jc });
calcAxes(J, { yTicks: jYTicks, yMinor: jYTicks.slice(0, -1).map(v => v + 100), foot: 36, title: 52, left: "Y", right: "Zr", sub: "Zr" });
label(J, 0.06, 2130, "(j)", { size: 18, weight: "bold" });
label(J, 0.5, 2118, "liquid", { size: 15 });
label(J, 0.082, 1667, "bcc′", { size: 15 });
label(J, 0.055, 1246, "hcp′", { size: 15, anchor: "start" });
arrow(J, 0.05, 1248, 0.008, 1248, { w: 1.3 });
label(J, 0.945, 1246, "bcc″", { size: 15, anchor: "end" });
arrow(J, 0.948, 1248, 0.99, 1248, { w: 1.3 });
label(J, 0.945, 1059, "hcp″", { size: 15, anchor: "end" });
arrow(J, 0.948, 1061, 0.99, 1061, { w: 1.3 });
</script>
</body>
</html>
